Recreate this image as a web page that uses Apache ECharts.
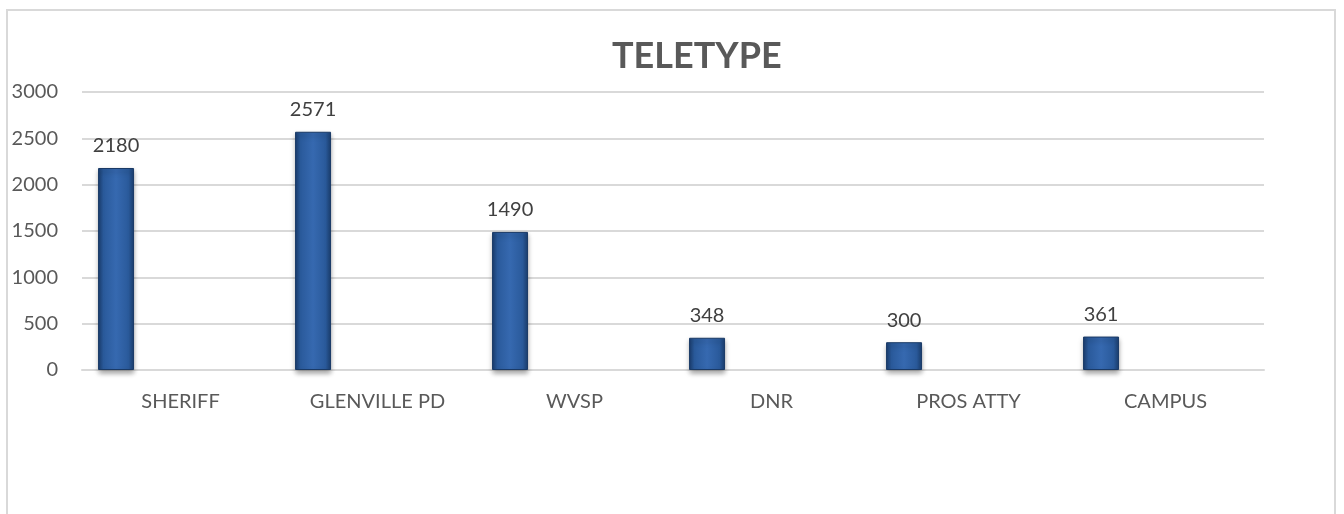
<!DOCTYPE html>
<html>
<head>
<meta charset="utf-8">
<script src="https://cdn.jsdelivr.net/npm/echarts@6/dist/echarts.min.js"></script>
<style>
  html, body { margin: 0; padding: 0; background: #fff; }
  #chart { width: 1344px; height: 514px; }
</style>
</head>
<body>
<div id="chart"></div>
<script>
// categories and counts
var categories = ["SHERIFF", "GLENVILLE PD", "WVSP", "DNR", "PROS ATTY", "CAMPUS"];
var teletype = [2180, 2571, 1490, 348, 300, 361];
// second series is empty in the source sheet, it only takes up the space to the right
var emptySeries = [null, null, null, null, null, null];
var yTicks = { min: 0, max: 3000, interval: 500 };

var myChart = echarts.init(document.getElementById("chart"));

var barColor = {
  type: "linear",
  x: 0, y: 0, x2: 1, y2: 0,
  colorStops: [
    { offset: 0, color: "#1b3f70" },
    { offset: 0.15, color: "#2a5a9b" },
    { offset: 0.5, color: "#3669b0" },
    { offset: 0.85, color: "#2a5a9b" },
    { offset: 1, color: "#1b3f70" }
  ]
};

var option = {
  animation: false,
  title: {
    text: "TELETYPE",
    left: 607,
    top: 33,
    textStyle: {
      fontFamily: "Lato",
      fontSize: 36,
      fontWeight: "bold",
      color: "#595959"
    }
  },
  graphic: [
    {
      type: "rect",
      shape: { x: 7, y: 10, width: 1328, height: 520 },
      style: { fill: "none", stroke: "#d9d9d9", lineWidth: 2 },
      silent: true
    }
  ],
  grid: {
    left: 82,
    right: 80,
    top: 92,
    bottom: 144
  },
  xAxis: {
    type: "category",
    data: categories,
    axisTick: { show: false },
    axisLine: { lineStyle: { color: "#d9d9d9", width: 2 } },
    axisLabel: {
      margin: 22,
      fontFamily: "Lato",
      fontSize: 20,
      color: "#595959"
    }
  },
  yAxis: {
    type: "value",
    min: yTicks.min,
    max: yTicks.max,
    interval: yTicks.interval,
    axisLine: { show: false },
    axisTick: { show: false },
    splitLine: { lineStyle: { color: "#d9d9d9", width: 2 } },
    axisLabel: {
      margin: 24,
      fontFamily: "Lato",
      fontSize: 20,
      color: "#595959",
      formatter: function (v) { return String(v); }
    }
  },
  series: [
    {
      name: "TELETYPE",
      type: "bar",
      data: teletype,
      barWidth: 36,
      barGap: "258%",
      itemStyle: {
        color: barColor,
        borderColor: "#1a3a66",
        borderWidth: 1,
        shadowColor: "rgba(0,0,0,0.35)",
        shadowBlur: 5,
        shadowOffsetY: 3
      },
      label: {
        show: true,
        position: "top",
        distance: 12,
        fontFamily: "Lato",
        fontSize: 20,
        color: "#404040"
      }
    },
    {
      name: "",
      type: "bar",
      data: emptySeries,
      barWidth: 36
    }
  ]
};

myChart.setOption(option);
</script>
</body>
</html>
